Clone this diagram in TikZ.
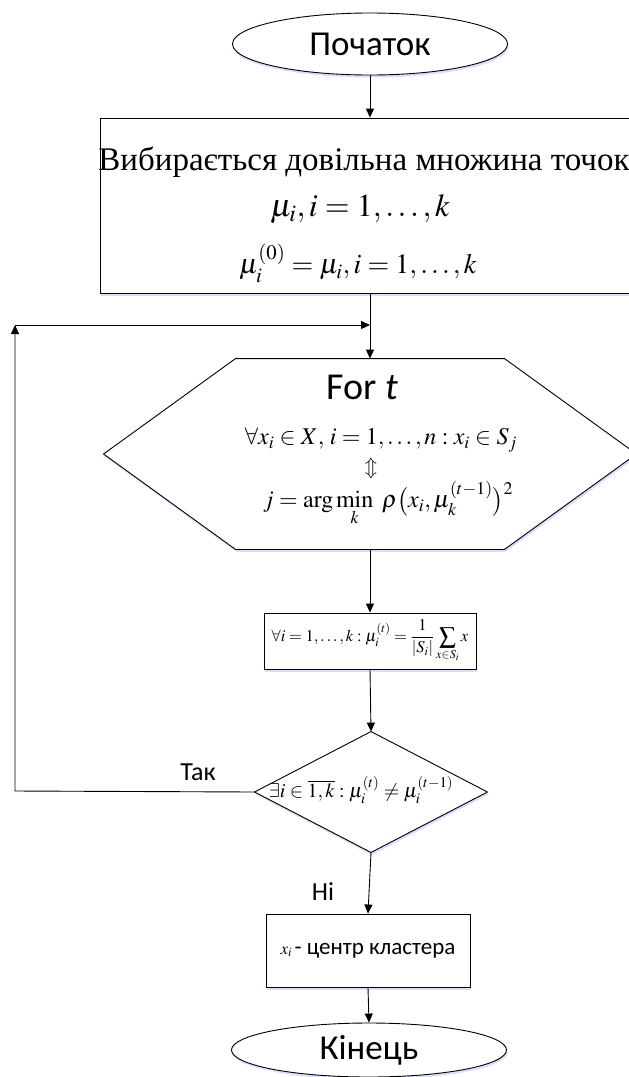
\documentclass[tikz,border=0pt]{standalone}
\usepackage{mathptmx}
\usepackage[no-math]{fontspec}
\setmainfont{Liberation Serif}
\newfontfamily\calfont{Carlito}
\usetikzlibrary{shapes.geometric,arrows.meta,shadows}
\begin{document}
\begin{tikzpicture}[x=1pt,y=1pt,
  line width=0.9pt,
  arr/.style={-{Triangle[length=9pt,width=8pt]}},
  sh/.style={drop shadow={fill=blue!30,opacity=0.45,shadow xshift=1pt,shadow yshift=-2.5pt}},
  term/.style={ellipse,draw,fill=white,sh,minimum width=275pt,inner sep=0pt,font=\calfont\fontsize{35}{40}\selectfont},
  boxn/.style={rectangle,draw,fill=white,sh,inner sep=0pt},
  frame/.style={rectangle,inner sep=0pt},
  txt/.style={inner sep=0pt},
  lbl/.style={inner sep=0pt,font=\calfont\fontsize{26}{30}\selectfont}]
\useasboundingbox (0,0) rectangle (629,-1077);

% start
\node[term,minimum height=62pt] (start) at (370,-44) {Початок};

% box 1
\node[boxn,minimum width=540pt,minimum height=175pt] (b1) at (370,-205.5) {};
\node[txt,font=\fontsize{33}{38}\selectfont] (b1a) at (364,-162) {Вибирається довільна множина точок};
\node[txt,font=\fontsize{32}{38}\selectfont] (b1b) at (360,-209) {$\mu_i,i=1,\ldots,k$};
\node[txt,font=\fontsize{28}{34}\selectfont] (b1c) at (358,-263) {$\mu_i^{(0)}=\mu_i,i=1,\ldots,k$};

% hexagon
\node[frame,minimum width=532pt,minimum height=190pt] (hex) at (370,-454) {};
\draw[fill=white,sh] (hex.west) -- ([xshift=132pt]hex.north west) -- ([xshift=-132pt]hex.north east)
  -- (hex.east) -- ([xshift=-132pt]hex.south east) -- ([xshift=132pt]hex.south west) -- cycle;
\node[txt,font=\calfont\fontsize{38}{44}\selectfont] (fort) at (362,-387) {For \textit{t}};
\node[txt,font=\fontsize{24}{28}\selectfont] (h1) at (381,-440) {$\forall x_i\in X,\,i=1,\ldots,n: x_i\in S_j$};
\node[txt,font=\fontsize{20}{24}\selectfont] (h2) at (371,-469) {$\Updownarrow$};
\node[txt,font=\fontsize{24}{28}\selectfont] (h3) at (388,-504) {$j=\arg\min\limits_k\ \rho\bigl(x_i,\mu_k^{(t-1)}\bigr)^2$};

% box 2
\node[boxn,minimum width=212pt,minimum height=56pt,font=\fontsize{16.5}{20}\selectfont] (b2) at (370,-641)
  {$\forall i=1,\ldots,k: \mu_i^{(t)}=\displaystyle\frac{1}{|S_i|}\sum_{x\in S_i}x$};

% decision
\node[frame,minimum width=232pt,minimum height=120pt] (d) at (371,-792) {};
\draw[fill=white,sh] (d.west) -- (d.north) -- (d.east) -- (d.south) -- cycle;
\node[txt,font=\fontsize{20}{24}\selectfont] (dt) at (361,-790) {$\exists i\in\overline{1,k}: \mu_i^{(t)}\neq\mu_i^{(t-1)}$};

% box 3
\node[boxn,minimum width=204pt,minimum height=73pt] (b3) at (368,-950.5)
  {{\fontsize{17}{20}\selectfont$x_i$}\ {\calfont\fontsize{23}{27}\selectfont - центр кластера}};

% end
\node[term,minimum height=54pt] (end) at (369,-1050) {Кінець};

% labels
\node[lbl] (tak) at (198,-772) {Так};
\node[lbl] (ni) at (323,-892) {Ні};

% loop coordinates
\coordinate (lp) at (15,-791);
\coordinate (lt) at (15,-325);
\coordinate (lm) at (370,-325);

% connectors
\draw[arr] (start.south) -- (b1.north);
\draw[arr] (b1.south) -- (hex.north);
\draw[arr] (d.west) -- (lp) -- (lt);
\draw[arr] (lt) -- (lm);
\draw[arr] (hex.south) -- (b2.north);
\draw[arr] (b2.south) -- (d.north);
\draw[arr] (d.south) -- (b3.north);
\draw[arr] (b3.south) -- (end.north);
\end{tikzpicture}
\end{document}
